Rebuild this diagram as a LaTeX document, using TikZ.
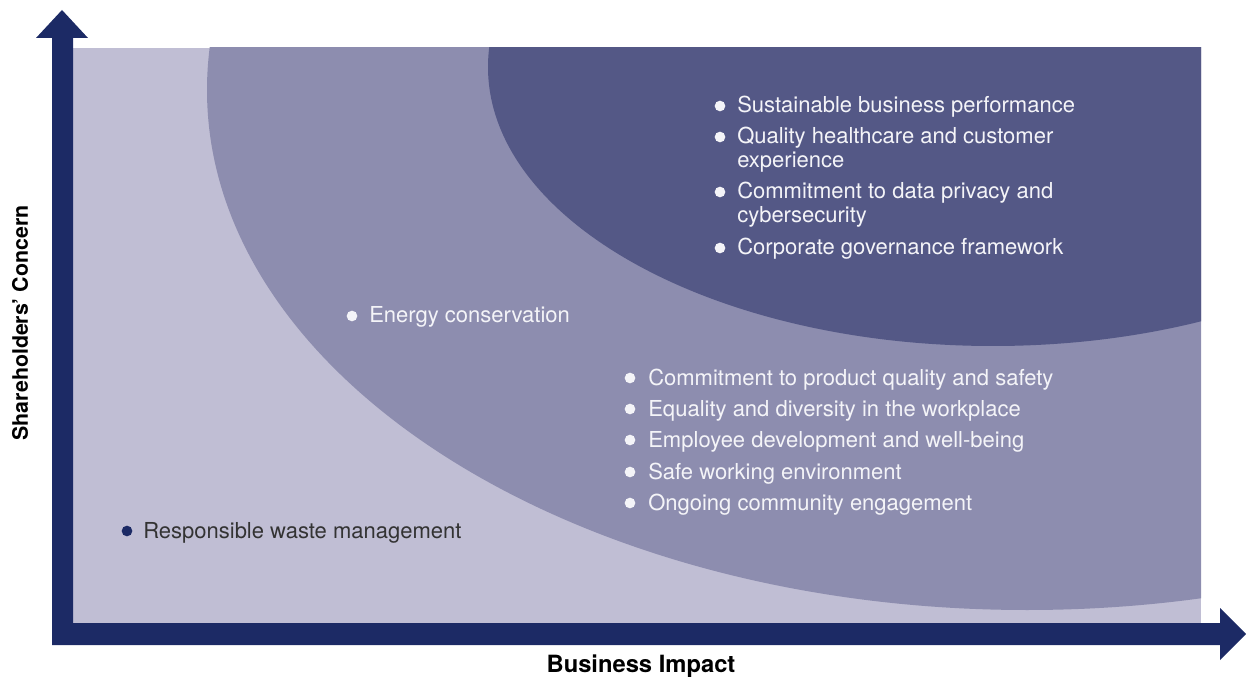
\documentclass[tikz,border=0pt]{standalone}
\usepackage{fontspec}
\setmainfont{TeX Gyre Heros}
\definecolor{axisblue}{HTML}{1C2A65}
\definecolor{lightreg}{HTML}{C0BED4}
\definecolor{midreg}{HTML}{8D8DAF}
\definecolor{darkreg}{HTML}{545886}
\definecolor{darktext}{HTML}{333333}
\definecolor{whitetext}{HTML}{F4F4F8}
\tikzset{
  wdot/.style={circle,fill=whitetext,inner sep=0pt,minimum size=8pt},
  ddot/.style={circle,fill=axisblue,inner sep=0pt,minimum size=8pt},
  witem/.style={anchor=base west,inner sep=0pt,text=whitetext,font=\fontsize{16.5pt}{18pt}\selectfont,align=left},
  ditem/.style={anchor=base west,inner sep=0pt,text=darktext,font=\fontsize{16.5pt}{18pt}\selectfont,align=left},
  axlabel/.style={inner sep=0pt,text=black,font=\fontsize{16pt}{18pt}\selectfont\bfseries},
}
\begin{document}
\begin{tikzpicture}[x=0.75pt,y=-0.75pt]
\useasboundingbox (0,0) rectangle (1246,677);
% regions
\fill[lightreg] (73,48) rectangle (1201,623);
\begin{scope}
  \clip (73,48) rectangle (1201,623);
  \fill[midreg] (1027,90) ellipse [x radius=615pt, y radius=390pt];
  \fill[darkreg] (993,67) ellipse [x radius=378.75pt, y radius=209.25pt];
\end{scope}
% axes
\fill[axisblue] (52,645) -- (52,38) -- (36,38) -- (62,10) -- (88,38) -- (73,38) -- (73,623)
  -- (1220,623) -- (1220,608) -- (1246,634) -- (1220,660) -- (1220,645) -- cycle;
\node[axlabel,font=\fontsize{17.8pt}{18pt}\selectfont\bfseries] (xl) at (641,666) {Business Impact};
\node[axlabel,rotate=90] (yl) at (20,323) {Shareholders’ Concern};
% top list
\node[wdot] (d1) at (720,106) {};
\node[witem] (t1) at (737,113) {Sustainable business performance};
\node[wdot] (d2) at (720,137) {};
\node[witem] (t2) at (737,168) {Quality healthcare and customer\\experience};
\node[wdot] (d3) at (720,192) {};
\node[witem] (t3) at (737,223) {Commitment to data privacy and\\cybersecurity};
\node[wdot] (d4) at (720,248) {};
\node[witem] (t4) at (737,255) {Corporate governance framework};
% middle
\node[wdot] (d5) at (352,316) {};
\node[witem] (t5) at (369,323) {Energy conservation};
% lower list
\node[wdot] (d6) at (630,378) {};
\node[witem] (t6) at (648,385) {Commitment to product quality and safety};
\node[wdot] (d7) at (630,409) {};
\node[witem] (t7) at (648,416) {Equality and diversity in the workplace};
\node[wdot] (d8) at (630,440) {};
\node[witem] (t8) at (648,447) {Employee development and well-being};
\node[wdot] (d9) at (630,472) {};
\node[witem] (t9) at (648,479) {Safe working environment};
\node[wdot] (d10) at (630,503) {};
\node[witem] (t10) at (648,510) {Ongoing community engagement};
% bottom left
\node[ddot] (d11) at (127,531) {};
\node[ditem] (t11) at (143,538) {Responsible waste management};
\end{tikzpicture}
\end{document}
